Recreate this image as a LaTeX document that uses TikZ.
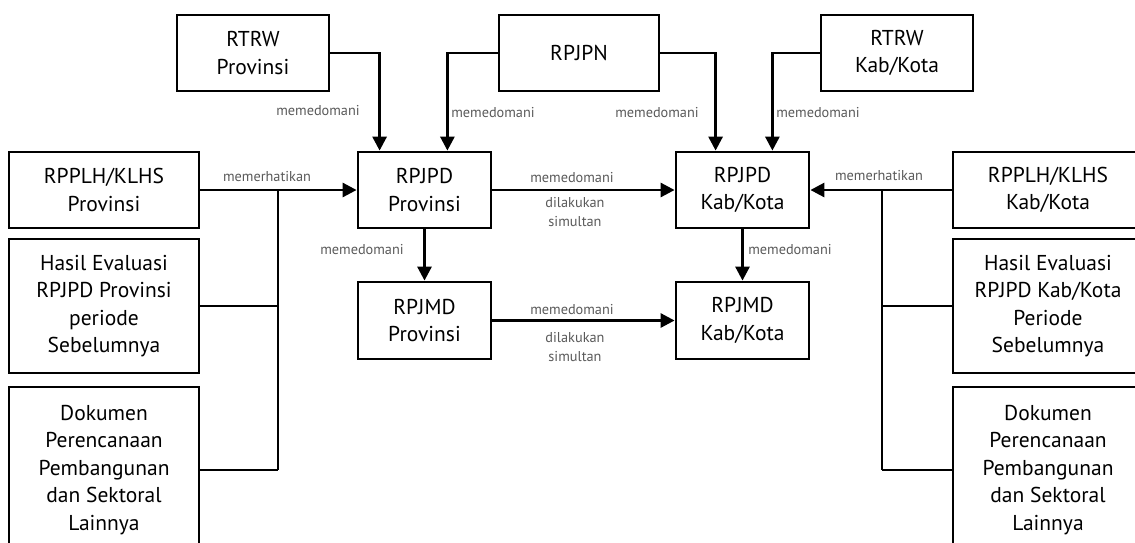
\documentclass[tikz,border=0pt]{standalone}
\usepackage{fontspec}
\setmainfont{PT Sans}
\usetikzlibrary{arrows.meta}
\definecolor{lblgray}{HTML}{5A5A5A}
\tikzset{
  box/.style={draw=black, line width=2.8pt, align=center, inner sep=2pt,
    font=\fontsize{21.5}{27.5}\selectfont, text=black},
  lbl/.style={text=lblgray, font=\fontsize{14.3}{19}\selectfont, inner sep=0pt, align=center},
  arr/.style={line width=2.8pt, -{Triangle[length=14pt,width=14pt]}},
  trunk/.style={line width=2.8pt},
  branch/.style={line width=2.1pt}
}
\begin{document}
\begin{tikzpicture}[x=1pt,y=-1pt]
\useasboundingbox (0,0) rectangle (1135,542);
\clip (0,0) rectangle (1135,542);
\fill[white] (0,0) rectangle (1135,542);
% boxes
\node[box, minimum width=152pt, minimum height=76pt] (rtrwp) at (253,53) {RTRW\\Provinsi};
\node[box, minimum width=160pt, minimum height=76pt] (rpjpn) at (579,53) {RPJPN};
\node[box, minimum width=152pt, minimum height=76pt] (rtrwk) at (897,53) {RTRW\\Kab/Kota};
\node[box, minimum width=190pt, minimum height=76pt] (klhsp) at (104,190) {RPPLH/KLHS\\Provinsi};
\node[box, minimum width=133pt, minimum height=76pt] (rpjpdp) at (424.5,190) {RPJPD\\Provinsi};
\node[box, minimum width=133pt, minimum height=76pt] (rpjpdk) at (742.5,190) {RPJPD\\Kab/Kota};
\node[box, minimum width=190pt, minimum height=76pt] (klhsk) at (1048,190) {RPPLH/KLHS\\Kab/Kota};
\node[box, minimum width=190pt, minimum height=134pt] (evalp) at (104,306) {Hasil Evaluasi\\RPJPD Provinsi\\periode\\Sebelumnya};
\node[box, minimum width=190pt, minimum height=134pt] (evalk) at (1048,306) {Hasil Evaluasi\\RPJPD Kab/Kota\\Periode\\Sebelumnya};
\node[box, minimum width=190pt, minimum height=166pt] (dokp) at (104,470) {Dokumen\\Perencanaan\\Pembangunan\\dan Sektoral\\Lainnya};
\node[box, minimum width=190pt, minimum height=166pt] (dokk) at (1048,470) {Dokumen\\Perencanaan\\Pembangunan\\dan Sektoral\\Lainnya};
\node[box, minimum width=133pt, minimum height=77pt] (rpjmdp) at (424.5,320.5) {RPJMD\\Provinsi};
\node[box, minimum width=133pt, minimum height=77pt] (rpjmdk) at (742.5,320.5) {RPJMD\\Kab/Kota};
% top connectors
\draw[arr] (rtrwp.east) -| ([xshift=23pt]rpjpdp.north west);
\draw[arr] (rpjpn.west) -| ([xshift=-45pt]rpjpdp.north east);
\draw[arr] (rpjpn.east) -| ([xshift=41pt]rpjpdk.north west);
\draw[arr] (rtrwk.west) -| ([xshift=-38pt]rpjpdk.north east);
% left side
\coordinate (jp) at (278,190);
\draw[branch] (klhsp.east) -- (jp);
\draw[arr] (jp) -- (rpjpdp.west);
\draw[trunk] (jp) -- (jp |- dokp.east);
\draw[branch] (evalp.east) -- (evalp.east -| jp);
\draw[branch] (dokp.east) -- (dokp.east -| jp);
% right side
\coordinate (jk) at (882,190);
\draw[branch] (klhsk.west) -- (jk);
\draw[arr] (jk) -- (rpjpdk.east);
\draw[trunk] (jk) -- (jk |- dokk.west);
\draw[branch] (evalk.west) -- (evalk.west -| jk);
\draw[branch] (dokk.west) -- (dokk.west -| jk);
% middle
\draw[arr] (rpjpdp.east) -- (rpjpdk.west);
\draw[arr] (rpjpdp.south) -- (rpjmdp.north);
\draw[arr] (rpjpdk.south) -- (rpjmdk.north);
\draw[arr] (rpjmdp.east) -- (rpjmdk.west);
% labels
\node[lbl] (l1) at (318,111) {memedomani};
\node[lbl] (l2) at (493,113) {memedomani};
\node[lbl] (l3) at (657,113) {memedomani};
\node[lbl] (l4) at (818,113) {memedomani};
\node[lbl] (l5) at (267,177) {memerhatikan};
\node[lbl] (l6) at (879,176) {memerhatikan};
\node[lbl] (l7) at (572,178) {memedomani};
\node[lbl] (l8) at (575,212) {dilakukan\\simultan};
\node[lbl] (l9) at (362,250) {memedomani};
\node[lbl] (l10) at (790,250) {memedomani};
\node[lbl] (l11) at (572,310) {memedomani};
\node[lbl] (l12) at (575,347) {dilakukan\\simultan};
\end{tikzpicture}
\end{document}
